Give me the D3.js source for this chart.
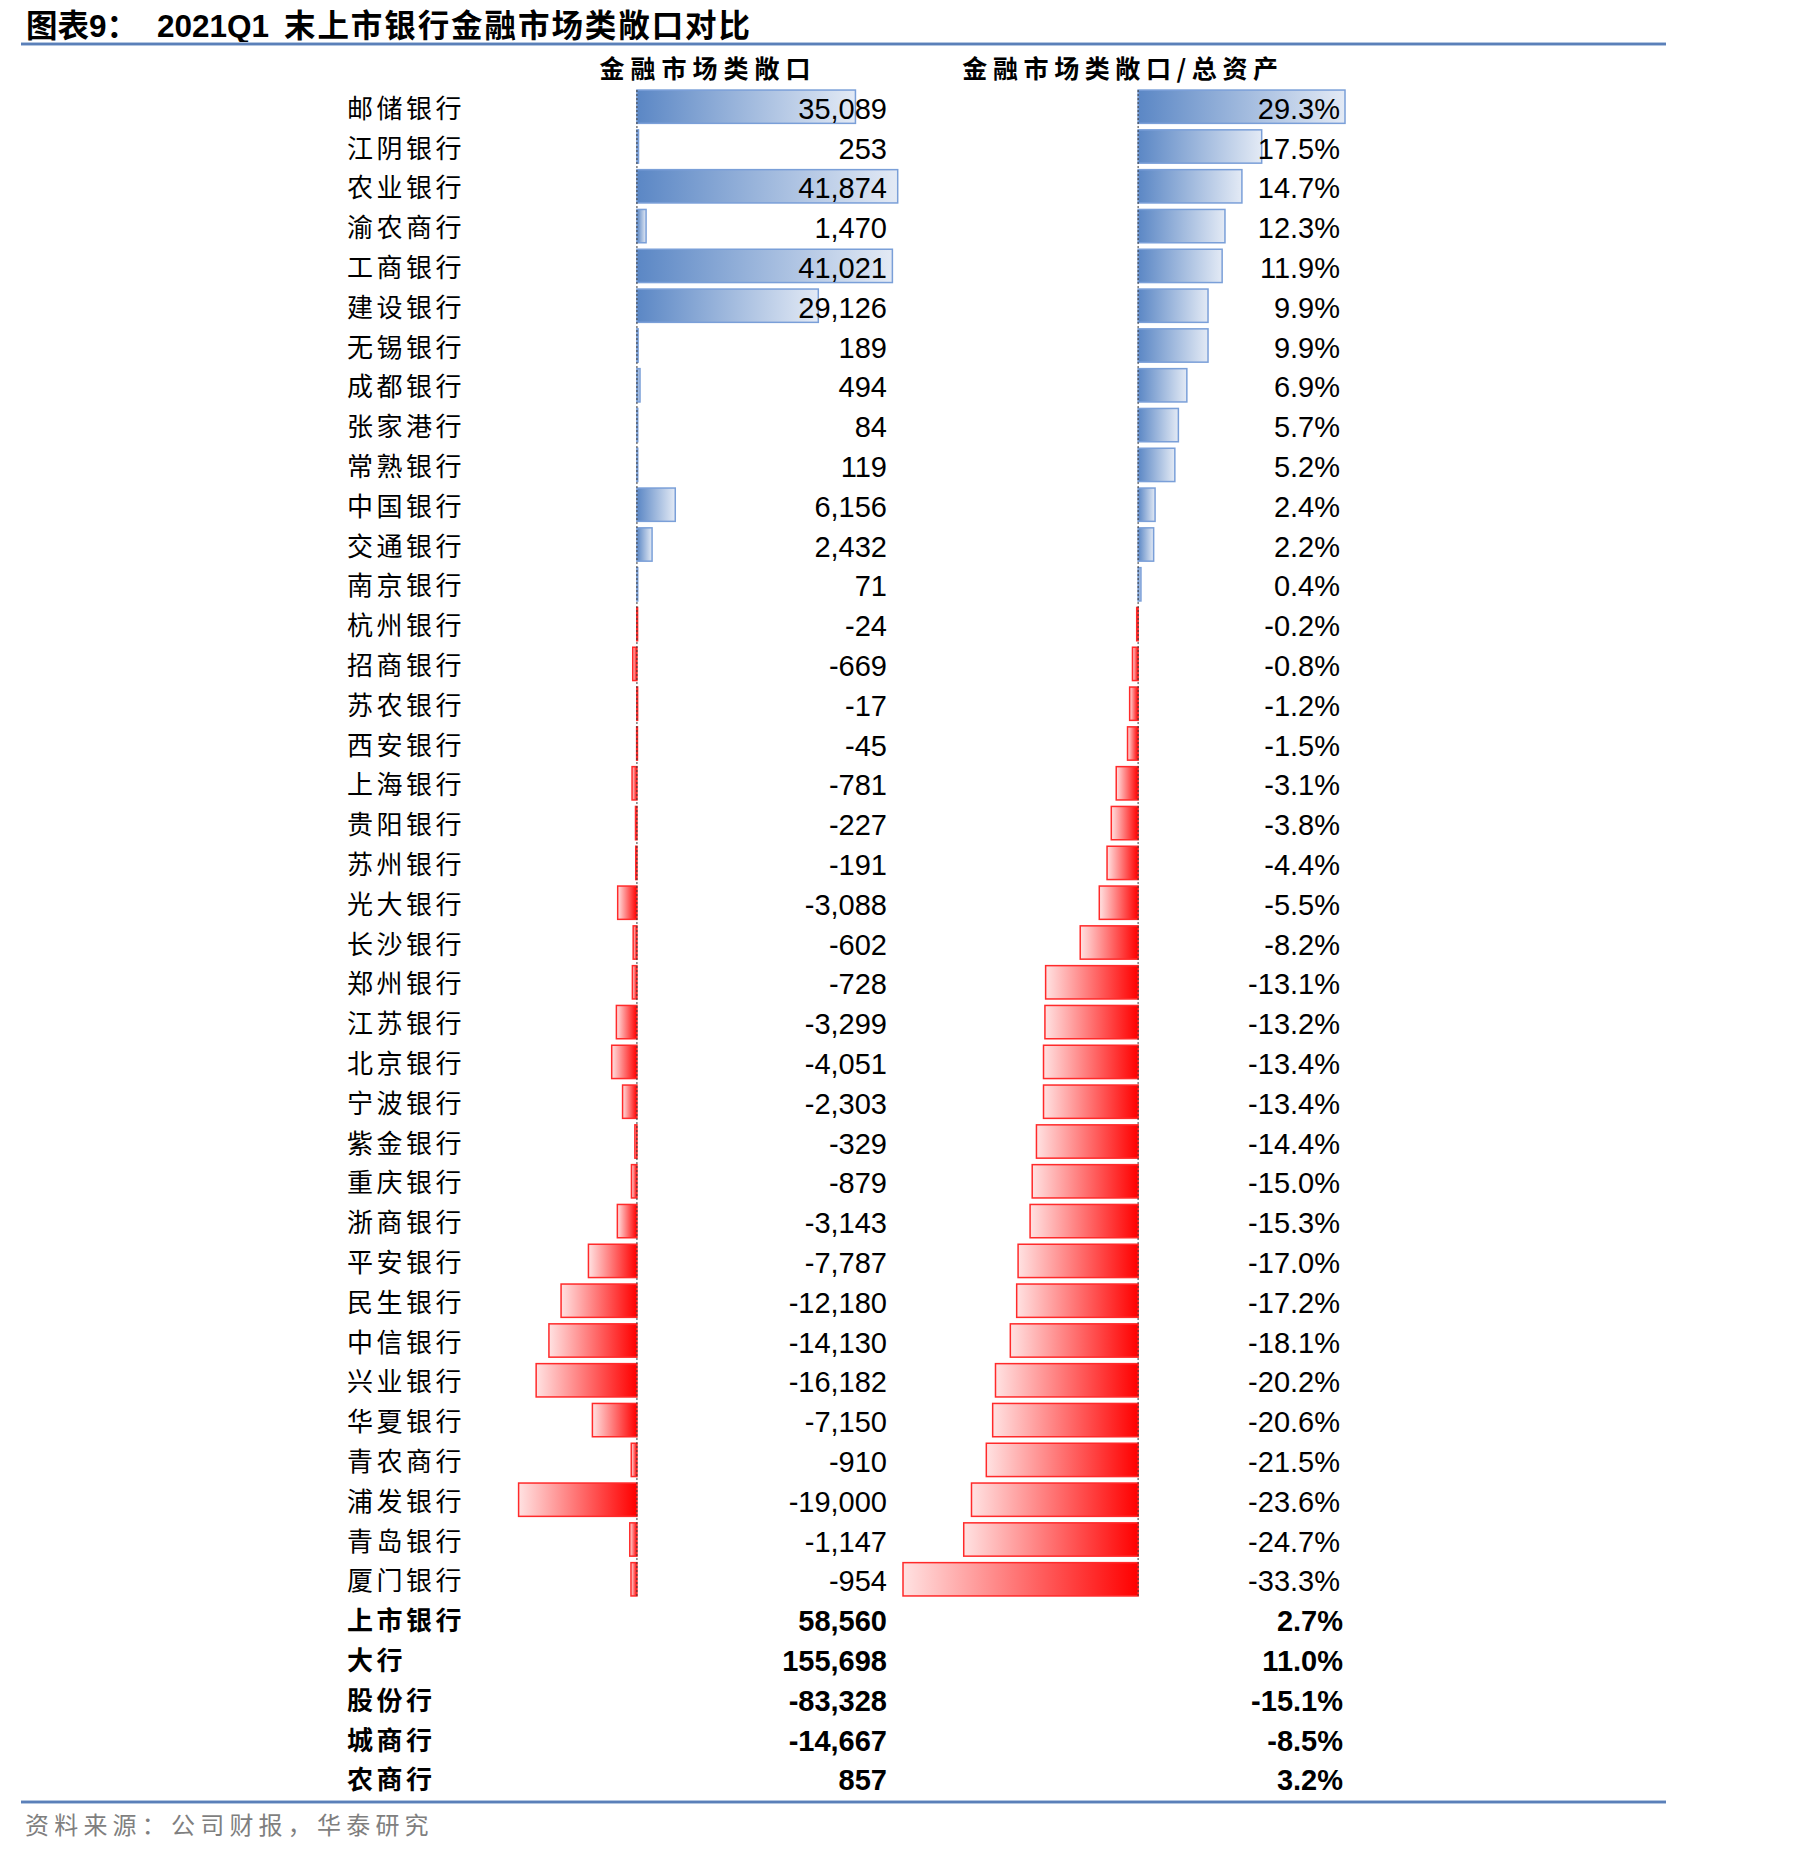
<!DOCTYPE html>
<html>
<head>
<meta charset="utf-8">
<script src="https://cdn.jsdelivr.net/npm/d3@7"></script>
<style>
  html, body { margin: 0; padding: 0; background: #fff; }
  svg { display: block; }
</style>
</head>
<body>
<script>
const banks = ["邮储银行","江阴银行","农业银行","渝农商行","工商银行","建设银行","无锡银行","成都银行","张家港行","常熟银行","中国银行","交通银行","南京银行","杭州银行","招商银行","苏农银行","西安银行","上海银行","贵阳银行","苏州银行","光大银行","长沙银行","郑州银行","江苏银行","北京银行","宁波银行","紫金银行","重庆银行","浙商银行","平安银行","民生银行","中信银行","兴业银行","华夏银行","青农商行","浦发银行","青岛银行","厦门银行"];
const exposure = [35089,253,41874,1470,41021,29126,189,494,84,119,6156,2432,71,-24,-669,-17,-45,-781,-227,-191,-3088,-602,-728,-3299,-4051,-2303,-329,-879,-3143,-7787,-12180,-14130,-16182,-7150,-910,-19000,-1147,-954];
const ratio = [29.3,17.5,14.7,12.3,11.9,9.9,9.9,6.9,5.7,5.2,2.4,2.2,0.4,-0.2,-0.8,-1.2,-1.5,-3.1,-3.8,-4.4,-5.5,-8.2,-13.1,-13.2,-13.4,-13.4,-14.4,-15.0,-15.3,-17.0,-17.2,-18.1,-20.2,-20.6,-21.5,-23.6,-24.7,-33.3];
const groups = ["上市银行","大行","股份行","城商行","农商行"];
const groupExposure = [58560,155698,-83328,-14667,857];
const groupRatio = [2.7,11.0,-15.1,-8.5,3.2];
const title1 = "图表9：";
const title2a = "2021Q1";
const title2b = "末上市银行金融市场类敞口对比";
const header1 = "金融市场类敞口";
const header2 = "金融市场类敞口/总资产";
const source = "资料来源：公司财报，华泰研究";

const W = 1819, H = 1857;
const cjk = "'Noto Sans CJK SC', sans-serif";
const num = "'Liberation Sans', Arial, 'Noto Sans CJK SC', sans-serif";

const loc = d3.formatLocale({decimal: ".", thousands: ",", grouping: [3], currency: ["", ""], minus: "-"});
const fInt = loc.format(",");
const fPct = v => loc.format(".1f")(v) + "%";

const svg = d3.select("body").append("svg").attr("width", W).attr("height", H);
svg.append("rect").attr("width", W).attr("height", H).attr("fill", "#fff");

const defs = svg.append("defs");
const gb = defs.append("linearGradient").attr("id", "gBlue").attr("x1", 0).attr("x2", 1).attr("y1", 0).attr("y2", 0);
gb.append("stop").attr("offset", 0).attr("stop-color", "#5b87c5");
gb.append("stop").attr("offset", 1).attr("stop-color", "#e3eaf5");
const gr = defs.append("linearGradient").attr("id", "gRed").attr("x1", 0).attr("x2", 1).attr("y1", 0).attr("y2", 0);
gr.append("stop").attr("offset", 0).attr("stop-color", "#ffe2e2");
gr.append("stop").attr("offset", 1).attr("stop-color", "#ff0000");

// Title
const tStyle = s => s.attr("y", 37).attr("font-family", num).attr("font-weight", "bold").attr("font-size", 31.5).attr("fill", "#000");
svg.append("text").attr("x", 26).call(tStyle).text(title1);
svg.append("text").attr("x", 157).call(tStyle).text(title2a);
svg.append("text").attr("x", 284).call(tStyle).attr("font-family", cjk)
  .attr("textLength", 466).attr("lengthAdjust", "spacing").text(title2b);

// Rules
[44, 1802].forEach(yy => {
  svg.append("line").attr("x1", 21).attr("x2", 1666).attr("y1", yy).attr("y2", yy).attr("stroke", "#b3c6e0").attr("stroke-width", 4);
  svg.append("line").attr("x1", 21).attr("x2", 1666).attr("y1", yy).attr("y2", yy).attr("stroke", "#5b80b9").attr("stroke-width", 2);
});

// Rows
const rows = banks.concat(groups);
const y = d3.scaleBand().domain(rows).range([86.8, 86.8 + rows.length * 39.8]).paddingInner(0.163).paddingOuter(0.0815);
const x1 = d3.scaleLinear().domain([-19000, 41874]).range([518.6, 897.7]);
const x2 = d3.scaleLinear().domain([-33.3, 29.3]).range([903, 1345]);

// Headers
svg.append("text").attr("x", 708).attr("y", 78).attr("text-anchor", "middle").attr("font-family", cjk)
  .attr("font-weight", "bold").attr("font-size", 25).attr("letter-spacing", 6).text(header1);
svg.append("text").attr("x", 1123).attr("y", 78).attr("text-anchor", "middle").attr("font-family", cjk)
  .attr("font-weight", "bold").attr("font-size", 25).attr("letter-spacing", 5.6).text(header2);

const bankData = banks.map((b, i) => ({name: b, v1: exposure[i], v2: ratio[i]}));
const groupData = groups.map((g, i) => ({name: g, v1: groupExposure[i], v2: groupRatio[i]}));

// Bars
function bars(sel, x, key) {
  sel.selectAll(null).data(bankData).join("rect")
    .attr("x", d => Math.min(x(0), x(d[key])))
    .attr("width", d => Math.max(0.8, Math.abs(x(d[key]) - x(0))))
    .attr("y", d => y(d.name))
    .attr("height", y.bandwidth())
    .attr("fill", d => d[key] >= 0 ? "url(#gBlue)" : "url(#gRed)")
    .attr("stroke", d => d[key] >= 0 ? "#7a9fd8" : "#ff2a2a")
    .attr("stroke-width", 1.5);
}
const gBars = svg.append("g");
bars(gBars, x1, "v1");
bars(gBars, x2, "v2");

// Zero axes (dashed)
const yTop = y(banks[0]), yBot = y(banks[banks.length - 1]) + y.bandwidth();
[x1(0), x2(0)].forEach(xx =>
  svg.append("line").attr("x1", xx).attr("x2", xx).attr("y1", yTop).attr("y2", yBot)
    .attr("stroke", "#333").attr("stroke-width", 1).attr("stroke-dasharray", "2,2"));

const cy = d => y(d.name) + y.bandwidth() / 2;

// Row labels
svg.append("g").selectAll("text").data(bankData).join("text")
  .attr("x", 347).attr("y", d => cy(d) + 11).attr("font-family", cjk).attr("font-size", 26)
  .attr("letter-spacing", 3.5).attr("fill", "#000").text(d => d.name);
svg.append("g").selectAll("text").data(groupData).join("text")
  .attr("x", 347).attr("y", d => cy(d) + 11).attr("font-family", cjk).attr("font-size", 26)
  .attr("font-weight", "bold").attr("letter-spacing", 3.5).attr("fill", "#000").text(d => d.name);

// Value labels
svg.append("g").selectAll("text").data(bankData).join("text")
  .attr("x", 887).attr("y", d => cy(d) + 12).attr("text-anchor", "end").attr("font-family", num)
  .attr("font-size", 29).attr("fill", "#000").text(d => fInt(d.v1));
svg.append("g").selectAll("text").data(bankData).join("text")
  .attr("x", 1340).attr("y", d => cy(d) + 12).attr("text-anchor", "end").attr("font-family", num)
  .attr("font-size", 29).attr("fill", "#000").text(d => fPct(d.v2));
svg.append("g").selectAll("text").data(groupData).join("text")
  .attr("x", 887).attr("y", d => cy(d) + 12).attr("text-anchor", "end").attr("font-family", num)
  .attr("font-size", 29).attr("font-weight", "bold").attr("fill", "#000").text(d => fInt(d.v1));
svg.append("g").selectAll("text").data(groupData).join("text")
  .attr("x", 1343).attr("y", d => cy(d) + 12).attr("text-anchor", "end").attr("font-family", num)
  .attr("font-size", 29).attr("font-weight", "bold").attr("fill", "#000").text(d => fPct(d.v2));

// Source
svg.append("text").attr("x", 25).attr("y", 1834).attr("font-family", cjk).attr("font-size", 24)
  .attr("letter-spacing", 5.2).attr("fill", "#7f7f7f").text(source);
</script>
</body>
</html>
